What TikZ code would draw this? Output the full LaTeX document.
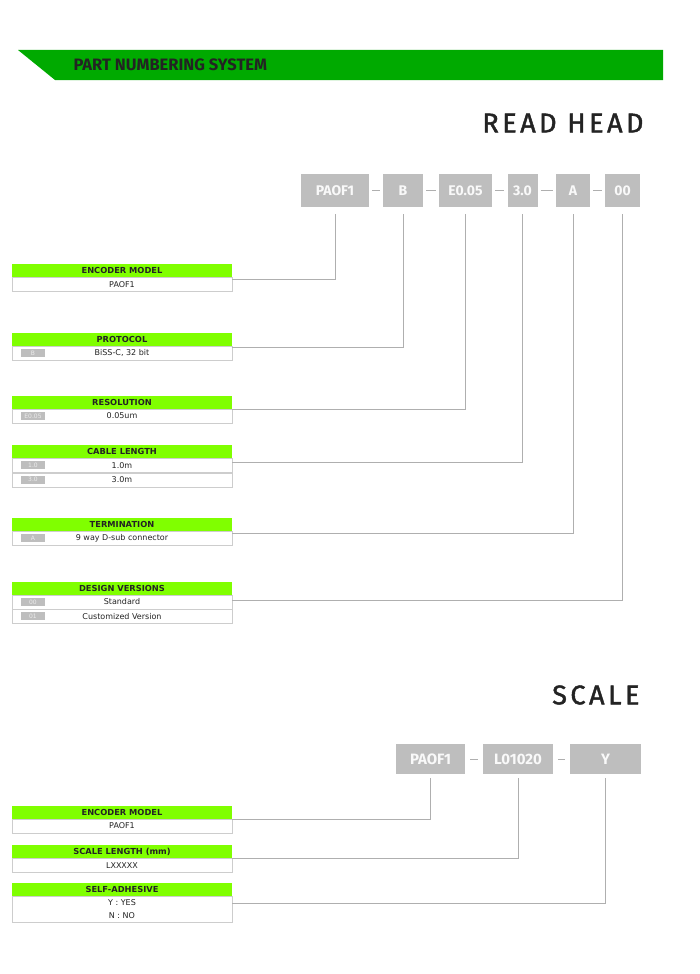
\documentclass[tikz,border=0pt]{standalone}
\usepackage{fontspec}
\setmainfont{DejaVu Sans}
\newfontfamily\codefont{Fira Sans}
\newfontfamily\titlefont[LetterSpace=13, FakeBold=1.6]{Fira Sans}
\usetikzlibrary{positioning}

\definecolor{bannergreen}{RGB}{0,170,0}
\definecolor{headgreen}{RGB}{128,255,0}
\definecolor{boxgray}{RGB}{190,190,190}
\definecolor{linegray}{RGB}{175,175,175}
\definecolor{rowline}{RGB}{205,205,205}
\definecolor{inkdark}{RGB}{35,35,35}

\begin{document}
\begin{tikzpicture}[
  x=1pt, y=-1pt, node distance=0pt,
  codebox/.style={rectangle, fill=boxgray, text=white!95!gray, inner sep=0pt, minimum height=33pt, font=\codefont\bfseries\fontsize{14}{14}\selectfont},
  scalebox/.style={codebox, minimum height=30pt, font=\codefont\bfseries\fontsize{15}{15}\selectfont},
  tabhead/.style={rectangle, fill=headgreen, inner sep=0pt, minimum width=220pt, minimum height=13pt, font=\bfseries\fontsize{8.3}{9}\selectfont, text=inkdark},
  tabrow/.style={rectangle, draw=rowline, fill=white, inner sep=0pt, minimum width=220pt, minimum height=14pt, align=center, font=\fontsize{8}{13}\selectfont, text=inkdark},
  badge/.style={rectangle, fill=boxgray, text=white!85!gray, inner sep=0pt, minimum width=24pt, minimum height=8pt, anchor=west, font=\fontsize{6}{6}\selectfont},
  link/.style={draw=linegray, line width=0.8pt},
  joiner/.style={draw=linegray, line width=0.8pt}
]
\useasboundingbox (0,0) rectangle (700,974);

% banner
\fill[bannergreen] (18,50) -- (663,50) -- (663,80) -- (55,80) -- cycle;
\node[anchor=west, text=inkdark, font=\codefont\bfseries\fontsize{16.5}{16}\selectfont] (banner) at (70,65) {PART NUMBERING SYSTEM};

% -------------------------
% READ HEAD
% -------------------------
\node[anchor=east, text=inkdark, font=\titlefont\fontsize{27}{27}\selectfont] (rhTitle) at (647,123) {READ HEAD};

\node[codebox, minimum width=68pt] (pA) at (335,190.5) {PAOF1};
\node[codebox, minimum width=40pt] (pB) at (403,190.5) {B};
\node[codebox, minimum width=53pt] (pC) at (465.5,190.5) {E0.05};
\node[codebox, minimum width=30pt] (pD) at (522.5,190.5) {3.0};
\node[codebox, minimum width=34pt] (pE) at (573,190.5) {A};
\node[codebox, minimum width=35pt] (pF) at (622.5,190.5) {00};

\foreach \a/\b in {pA/pB, pB/pC, pC/pD, pD/pE, pE/pF}
  \draw[joiner] ([xshift=3pt]\a.east) -- ([xshift=-3pt]\b.west);

% tables
\node[tabhead] (emH) at (122,270.5) {ENCODER MODEL};
\node[tabrow, below=of emH] (emR) {PAOF1};

\node[tabhead] (prH) at (122,339.5) {PROTOCOL};
\node[tabrow, below=of prH] (prR) {BiSS-C, 32 bit};
\node[badge] at ([xshift=9pt]prR.west) {B};

\node[tabhead] (reH) at (122,402) {RESOLUTION};
\node[tabrow, below=of reH] (reR) {0.05um};
\node[badge] at ([xshift=9pt]reR.west) {E0.05};

\node[tabhead] (clH) at (122,451.5) {CABLE LENGTH};
\node[tabrow, below=of clH] (clR1) {1.0m};
\node[tabrow, below=of clR1] (clR2) {3.0m};
\node[badge] at ([xshift=9pt]clR1.west) {1.0};
\node[badge] at ([xshift=9pt]clR2.west) {3.0};

\node[tabhead] (teH) at (122,524.5) {TERMINATION};
\node[tabrow, below=of teH] (teR) {9 way D-sub connector};
\node[badge] at ([xshift=9pt]teR.west) {A};

\node[tabhead] (dvH) at (122,588) {DESIGN VERSIONS};
\node[tabrow, below=of dvH] (dvR1) {Standard};
\node[tabrow, below=of dvR1] (dvR2) {Customized Version};
\node[badge] at ([xshift=9pt]dvR1.west) {00};
\node[badge] at ([xshift=9pt]dvR2.west) {01};

% connectors
\draw[link] ([yshift=-7pt]pA.south) |- ([yshift=-2pt]emH.south east);
\draw[link] ([yshift=-7pt]pB.south) |- ([yshift=-1pt]prH.south east);
\draw[link] ([yshift=-7pt]pC.south) |- ([yshift=-1pt]reH.south east);
\draw[link] ([yshift=-7pt]pD.south) |- ([yshift=-4.5pt]clH.south east);
\draw[link] ([yshift=-7pt]pE.south) |- ([yshift=-2pt]teH.south east);
\draw[link] ([yshift=-7pt]pF.south) |- ([yshift=-6pt]dvH.south east);

% -------------------------
% SCALE
% -------------------------
\node[anchor=east, text=inkdark, font=\titlefont\fontsize{27}{27}\selectfont] (scTitle) at (643,695) {SCALE};

\node[scalebox, minimum width=69pt] (sA) at (430.5,759) {PAOF1};
\node[scalebox, minimum width=70pt] (sB) at (518,759) {L01020};
\node[scalebox, minimum width=71pt] (sC) at (605.5,759) {Y};

\foreach \a/\b in {sA/sB, sB/sC}
  \draw[joiner] ([xshift=5pt]\a.east) -- ([xshift=-5pt]\b.west);

\node[tabhead] (smH) at (122,812) {ENCODER MODEL};
\node[tabrow, below=of smH] (smR) {PAOF1};

\node[tabhead] (slH) at (122,851.5) {SCALE LENGTH (mm)};
\node[tabrow, below=of slH] (slR) {LXXXXX};

\node[tabhead] (saH) at (122,889.5) {SELF-ADHESIVE};
\node[tabrow, below=of saH, minimum height=26pt] (saR) {Y : YES\\N : NO};

\draw[link] ([yshift=-4pt]sA.south) |- ([yshift=-1pt]smH.south east);
\draw[link] ([yshift=-4pt]sB.south) |- (slH.south east);
\draw[link] ([yshift=-4pt]sC.south) |- ([yshift=-7pt]saH.south east);

\end{tikzpicture}
\end{document}
